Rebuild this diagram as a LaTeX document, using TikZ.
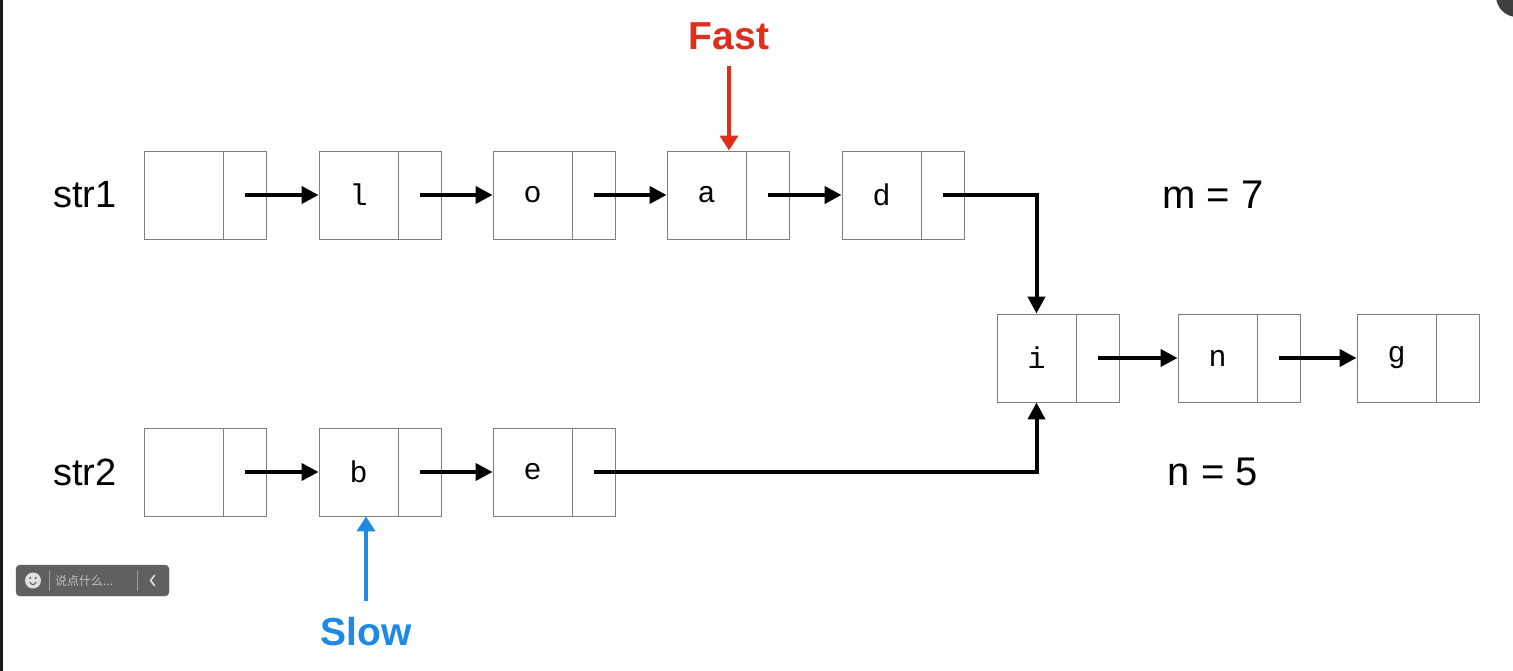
\documentclass[tikz,border=0pt]{standalone}
\usepackage{fontspec}
\setmainfont{Liberation Sans}
\setmonofont{Liberation Mono}
\newfontfamily\cjk{Noto Sans CJK SC}
\usetikzlibrary{arrows.meta}
\definecolor{cellgray}{HTML}{7E7E7E}
\definecolor{fastred}{HTML}{E02E1C}
\definecolor{slowblue}{HTML}{1E8AE6}
\definecolor{barbg}{HTML}{606060}
\tikzset{
  cell/.style={draw=cellgray, line width=0.9pt, minimum width=79pt, minimum height=88pt,
    inner sep=0pt, font=\ttfamily\fontsize{30}{30}\selectfont},
  ptr/.style={draw=cellgray, line width=0.9pt, minimum width=43pt, minimum height=88pt,
    inner sep=0pt, anchor=west},
  link/.style={line width=4pt, -{Triangle[length=17pt,width=17pt]}},
  lbl/.style={font=\fontsize{38}{38}\selectfont},
  len/.style={font=\fontsize{40}{40}\selectfont},
  marker/.style={line width=3.6pt, -{Triangle[length=15pt,width=18pt]}},
  tag/.style={font=\bfseries\fontsize{39}{39}\selectfont},
}
\newcommand{\listcell}[4]{%
  \node[cell] (#1) at (#2,#3) {#4};
  \node[ptr] (#1p) at (#1.east) {};
}
\begin{document}
\begin{tikzpicture}[x=1pt,y=-1pt]
  \useasboundingbox (0,0) rectangle (1513,671);
  \fill[white] (0,0) rectangle (1513,671);
  % window edge
  \fill[black!90] (0,0) rectangle (3,671);
  \fill[black!75] (1517,-4) circle (21);

  % first list
  \listcell{h1}{183.5}{195}{}
  \listcell{l}{358.5}{195}{l}
  \listcell{o}{532.5}{195}{o}
  \listcell{a}{706.5}{195}{a}
  \listcell{d}{881.5}{195}{d}
  % second list
  \listcell{h2}{183.5}{472}{}
  \listcell{b}{358.5}{472}{b}
  \listcell{e}{532.5}{472}{e}
  % shared tail
  \listcell{i}{1036.5}{358}{i}
  \listcell{n}{1217.5}{358}{n}
  \listcell{g}{1396.5}{358}{g}

  \node[lbl] (s1) at (85,195) {str1};
  \node[lbl] (s2) at (85,472) {str2};
  \node[len] (mm) at (1213,195) {m = 7};
  \node[len] (nn) at (1213,472) {n = 5};

  % links
  \draw[link] (h1p.center) -- (l.west);
  \draw[link] (lp.center) -- (o.west);
  \draw[link] (op.center) -- (a.west);
  \draw[link] (ap.center) -- (d.west);
  \draw[link] (dp.center) -| (i.north);
  \draw[link] (h2p.center) -- (b.west);
  \draw[link] (bp.center) -- (e.west);
  \draw[link] (ep.center) -| (i.south);
  \draw[link] (ip.center) -- (n.west);
  \draw[link] (np.center) -- (g.west);

  % pointers
  \node[tag, text=fastred] (fast) at (729,36) {Fast};
  \coordinate (fs) at (729,66);
  \draw[marker, fastred] (fs) -- ([xshift=22.5pt]a.north);
  \node[tag, text=slowblue] (slow) at (366,632) {Slow};
  \coordinate (ss) at (366,601);
  \draw[marker, slowblue] (ss) -- ([xshift=7.5pt]b.south);

  % comment bar
  \draw[barbg, rounded corners=4pt, fill=barbg] (16,565) rectangle (169,596);
  \fill[white!88!black] (33,580.5) circle (8);
  \fill[barbg] (30.3,578) circle (1.1) (35.7,578) circle (1.1);
  \draw[barbg, line width=1pt] (29.8,582) .. controls (31.5,585.5) and (34.5,585.5) .. (36.2,582);
  \draw[gray!80, line width=0.8pt] (49,570) -- (49,591) (137,570) -- (137,591);
  \node[anchor=west, text=white!75!black, font=\cjk\fontsize{12}{12}\selectfont, inner sep=0pt] (say) at (55,580.5) {说点什么...};
  \draw[white!88!black, line width=1.6pt, line cap=round, line join=round] (154.5,575.5) -- (150.5,580.5) -- (154.5,585.5);
\end{tikzpicture}
\end{document}
